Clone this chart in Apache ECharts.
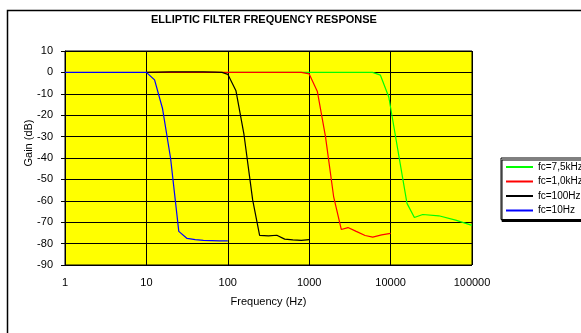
<!DOCTYPE html>
<html>
<head>
<meta charset="utf-8">
<script src="https://cdn.jsdelivr.net/npm/echarts@6/dist/echarts.min.js"></script>
<style>
  html, body { margin: 0; padding: 0; background: #fff; }
  #chart { width: 581px; height: 333px; }
</style>
</head>
<body>
<div id="chart"></div>
<script>
// curves, frequency in Hz, gain in dB
const freq75k = [100, 1000, 3000, 6000, 7500, 9500, 15900, 19600, 24800, 39100, 62900, 100000]
const gain75k = [0, 0, 0, 0, -1.3, -11.5, -61.2, -67.8, -66.4, -67, -69, -71.5]

const freq1k = [10, 100, 300, 600, 800, 1000, 1259, 1585, 1995, 2478, 2993, 3780, 4864, 6030, 7760, 10000]
const gain1k = [0, 0, 0, 0, 0, -0.7, -8.9, -30, -58, -73.4, -72.5, -74.3, -76.2, -77, -75.9, -75.2]

const freq100 = [10, 20, 30, 50, 70, 85, 100, 126, 158, 202, 246, 316, 400, 500, 630, 800, 1000]
const gain100 = [0, 0.2, 0.3, 0.2, 0.1, 0, -0.9, -8.6, -29, -59.6, -76.2, -76.4, -76.1, -77.9, -78.3, -78.5, -78.1]

const freq10 = [1, 2, 3, 5, 7, 10, 12.6, 15.8, 19.8, 25, 31.6, 39.8, 50.1, 63.1, 79.4, 100]
const gain10 = [0, 0, 0, 0, 0, 0, -3.5, -17, -40, -74.3, -77.6, -78.1, -78.5, -78.6, -78.7, -78.7]

const seriesNames = ['fc=7,5kHz', 'fc=1,0kHz', 'fc=100Hz', 'fc=10Hz']
const seriesColors = ['#00ff00', '#ff0000', '#000000', '#0000ff']
const xTicks = [1, 10, 100, 1000, 10000, 100000]
const yTicks = [-90, -80, -70, -60, -50, -40, -30, -20, -10, 0, 10]

const pairs = (xs, ys) => xs.map((x, i) => [x, ys[i]])
const curves = [pairs(freq75k, gain75k), pairs(freq1k, gain1k), pairs(freq100, gain100), pairs(freq10, gain10)]

const font = 'Arial, "Liberation Sans", sans-serif'
const chart = echarts.init(document.getElementById('chart'))

chart.setOption({
  animation: false,
  backgroundColor: '#fff',
  textStyle: { fontFamily: font },
  title: {
    text: 'ELLIPTIC FILTER FREQUENCY RESPONSE',
    left: 151,
    top: 14,
    padding: 0,
    textStyle: { fontFamily: font, fontSize: 11, fontWeight: 'bold', color: '#000' }
  },
  grid: {
    left: 65, top: 51, width: 407, height: 214,
    show: true, backgroundColor: '#ffff00', borderColor: '#000', borderWidth: 1
  },
  legend: {
    orient: 'vertical',
    left: 501, top: 158,
    padding: [4, 40, 4, 4],
    itemWidth: 27, itemHeight: 10, itemGap: 4.5,
    backgroundColor: '#fff', borderColor: '#000', borderWidth: 1,
    shadowColor: '#000', shadowOffsetX: 1, shadowOffsetY: 2, shadowBlur: 0,
    itemStyle: { opacity: 0 },
    textStyle: { fontFamily: font, fontSize: 10, color: '#000' },
    data: seriesNames
  },
  xAxis: {
    type: 'log', logBase: 10, min: xTicks[0], max: xTicks[xTicks.length - 1],
    name: 'Frequency (Hz)', nameLocation: 'middle', nameGap: 31,
    nameTextStyle: { fontFamily: font, fontSize: 11, color: '#000' },
    axisLine: { lineStyle: { color: '#000', width: 1 } },
    axisTick: { show: true, inside: false, length: 4, lineStyle: { color: '#000' } },
    minorTick: { show: false },
    axisLabel: { margin: 12, fontFamily: font, fontSize: 11, color: '#000', formatter: v => String(Math.round(v)) },
    splitLine: { show: true, lineStyle: { color: '#000', width: 1 } }
  },
  yAxis: {
    type: 'value', min: yTicks[0], max: yTicks[yTicks.length - 1], interval: 10,
    axisLine: { show: true, lineStyle: { color: '#000', width: 1 } },
    axisTick: { show: true, inside: false, length: 4, lineStyle: { color: '#000' } },
    axisLabel: { margin: 12, fontFamily: font, fontSize: 11, color: '#000' },
    splitLine: { show: true, lineStyle: { color: '#000', width: 1 } }
  },
  graphic: [
    {
      type: 'rect', z: -10, silent: true,
      shape: { x: 7.5, y: 10.5, width: 700, height: 400 },
      style: { fill: 'none', stroke: '#000', lineWidth: 1.5 }
    },
    {
      type: 'text', x: 29, y: 143, rotation: Math.PI / 2, silent: true,
      style: { text: 'Gain (dB)', fontFamily: font, fontSize: 11, fill: '#000', align: 'center', verticalAlign: 'middle' }
    }
  ],
  series: curves.map((data, i) => ({
    name: seriesNames[i],
    type: 'line',
    data: data,
    symbol: 'none',
    color: seriesColors[i],
    lineStyle: { color: seriesColors[i], width: 1.2 }
  }))
})
</script>
</body>
</html>
